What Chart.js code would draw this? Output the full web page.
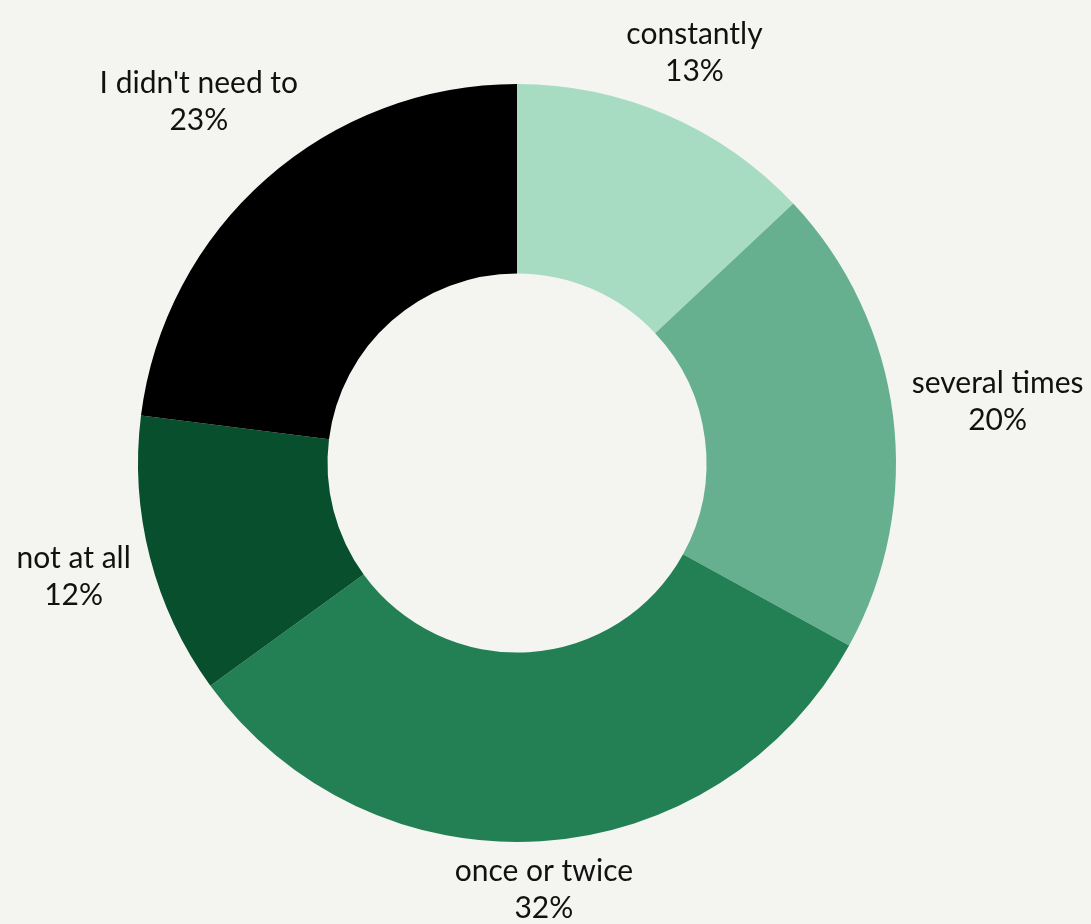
<!DOCTYPE html>
<html>
<head>
<meta charset="utf-8">
<script src="https://cdn.jsdelivr.net/npm/chart.js@4"></script>
<style>
html,body{margin:0;padding:0;background:#f4f5f0;}
#wrap{width:1091px;height:924px;position:relative;}
</style>
</head>
<body>
<div id="wrap"><canvas id="c" width="1091" height="924"></canvas></div>
<script>
const categories = ["constantly", "several times", "once or twice", "not at all", "I didn't need to"];
const values = [13, 20, 32, 12, 23];
const colors = ["#a7dcc3", "#67b08f", "#237f54", "#08502d", "#000000"];

const FONT = "30px Lato, 'Open Sans', sans-serif";
const LINE = 37;

const outsideLabels = {
  id: 'outsideLabels',
  afterDatasetsDraw(chart) {
    const ctx = chart.ctx;
    const meta = chart.getDatasetMeta(0);
    const total = values.reduce((a, b) => a + b, 0);
    ctx.save();
    ctx.font = FONT;
    ctx.fillStyle = "#111111";
    ctx.textAlign = "center";
    ctx.textBaseline = "middle";
    meta.data.forEach((arc, i) => {
      const p = arc.getProps(['x', 'y', 'startAngle', 'endAngle', 'outerRadius'], true);
      const mid = (p.startAngle + p.endAngle) / 2;
      const lines = [categories[i], Math.round(values[i] / total * 100) + "%"];
      const w = Math.max(...lines.map(t => ctx.measureText(t).width));
      const halfW = w / 2, halfH = 26;
      const cx = Math.cos(mid), sy = Math.sin(mid);
      const d = p.outerRadius + 17 + Math.abs(cx) * halfW + Math.abs(sy) * halfH;
      const x = p.x + cx * d;
      const y = p.y + sy * d;
      ctx.fillText(lines[0], x, y - LINE / 2);
      ctx.fillText(lines[1], x, y + LINE / 2);
    });
    ctx.restore();
  }
};

new Chart(document.getElementById('c'), {
  type: 'doughnut',
  data: {
    labels: categories,
    datasets: [{
      data: values,
      backgroundColor: colors,
      borderWidth: 0
    }]
  },
  options: {
    responsive: false,
    animation: false,
    cutout: '50%',
    layout: { padding: { top: 84, bottom: 82, left: 137, right: 194 } },
    plugins: {
      legend: { display: false },
      tooltip: { enabled: false }
    }
  },
  plugins: [outsideLabels]
});
</script>
</body>
</html>
